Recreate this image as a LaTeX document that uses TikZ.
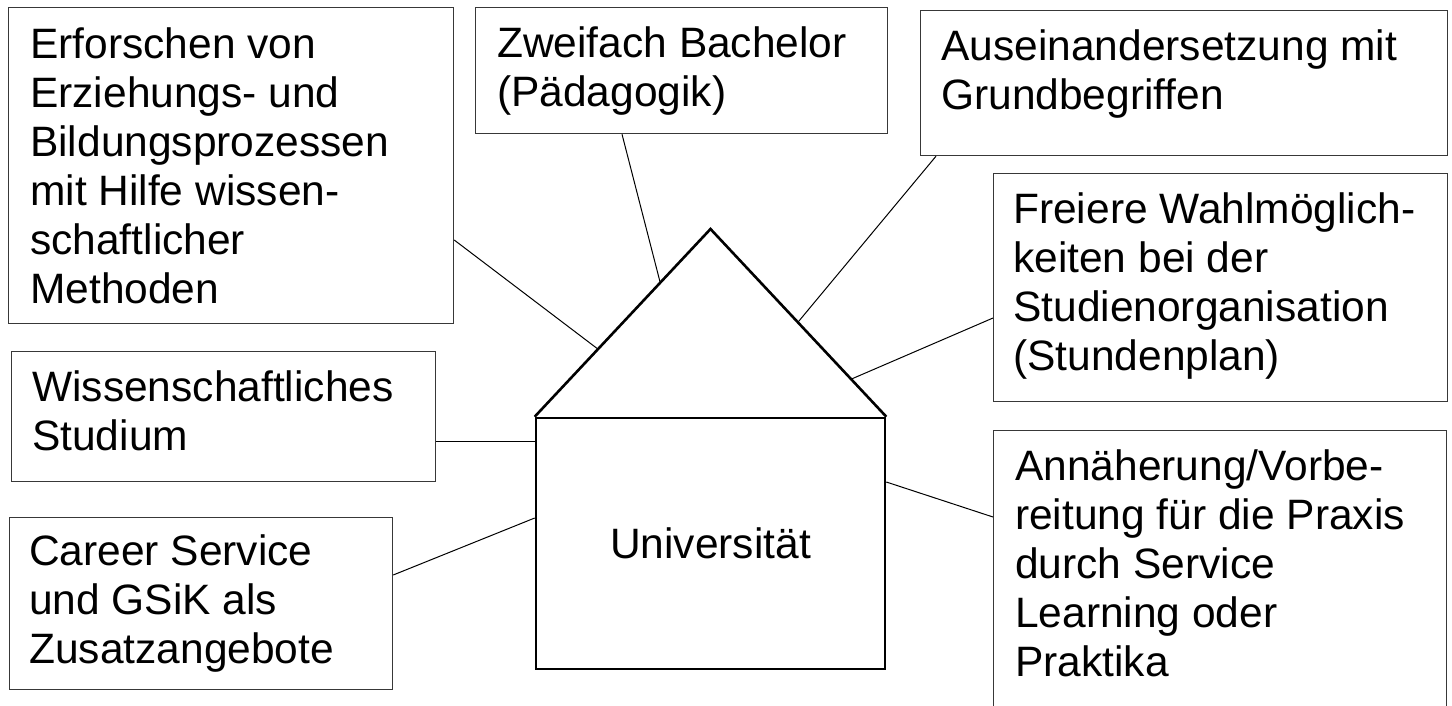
\documentclass[tikz,border=0pt]{standalone}
\usepackage{fontspec}
\setmainfont{Liberation Sans}
\usetikzlibrary{calc}
\newcommand{\mylines}[1]{\begin{tabular}[t]{@{}l@{}}#1\end{tabular}}
\tikzset{
  infobox/.style={draw=black!78, line width=1.2pt, anchor=north west, inner sep=0pt},
  txt/.style={anchor=base west, inner sep=0pt, font=\fontsize{42.5}{49}\selectfont},
  house/.style={draw=black, line width=2.6pt, inner sep=0pt, font=\fontsize{42.5}{49}\selectfont},
  conn/.style={draw=black, line width=1pt}
}
\begin{document}
\begin{tikzpicture}[x=1pt,y=-1pt]
\useasboundingbox (0,0) rectangle (1452,705);
\clip (0,0) rectangle (1452,705);
\fill[white] (0,0) rectangle (1452,705);

% boxes
\node[infobox, minimum width=445pt, minimum height=316pt] (b1) at (8,7) {};
\node[txt] (t1) at (30,58) {\mylines{Erforschen von\\Erziehungs- und\\Bildungsprozessen\\mit Hilfe wissen-\\schaftlicher\\Methoden}};

\node[infobox, minimum width=412pt, minimum height=126pt] (b2) at (475,7) {};
\node[txt] (t2) at (497,57) {\mylines{Zweifach Bachelor\\(Pädagogik)}};

\node[infobox, minimum width=527pt, minimum height=145pt] (b3) at (920,10) {};
\node[txt] (t3) at (941,60) {\mylines{Auseinandersetzung mit\\Grundbegriffen}};

\node[infobox, minimum width=454pt, minimum height=228pt] (b4) at (993,173) {};
\node[txt] (t4) at (1013,223) {\mylines{Freiere Wahlmöglich-\\keiten bei der\\Studienorganisation\\(Stundenplan)}};

\node[infobox, minimum width=424pt, minimum height=130pt] (b5) at (11,351) {};
\node[txt] (t5) at (32,401) {\mylines{Wissenschaftliches\\Studium}};

\node[infobox, minimum width=383pt, minimum height=172pt] (b6) at (9,517) {};
\node[txt] (t6) at (29,565) {\mylines{Career Service\\und GSiK als\\Zusatzangebote}};

\node[infobox, minimum width=453pt, minimum height=300pt] (b7) at (993,430) {};
\node[txt] (t7) at (1015,480) {\mylines{Annäherung/Vorbe-\\reitung für die Praxis\\durch Service\\Learning oder\\Praktika}};

% house
\node[house, minimum width=349pt, minimum height=251pt] (uni) at (710.5,543.5) {Universität};
\coordinate (apex) at (710.5,229);
\draw[black, line width=2.6pt, line join=miter] (uni.north west) -- (apex) -- (uni.north east);

% attachment points on the roof
\coordinate (r1) at ($(uni.north west)!0.36!(apex)$);
\coordinate (r2) at ($(uni.north west)!0.714!(apex)$);
\coordinate (r3) at ($(apex)!0.497!(uni.north east)$);
\coordinate (r4) at ($(apex)!0.80!(uni.north east)$);

% connectors
\draw[conn] (b1.east |- 0,240) -- (r1);
\draw[conn] (b2.south -| 622,0) -- (r2);
\draw[conn] (b3.south -| 936,0) -- (r3);
\draw[conn] (b4.west |- 0,318) -- (r4);
\draw[conn] (b5.east |- 0,441) -- (uni.west |- 0,441);
\draw[conn] (b6.east |- 0,575) -- (uni.west |- 0,518);
\draw[conn] (uni.east |- 0,482) -- (b7.west |- 0,517);
\end{tikzpicture}
\end{document}
